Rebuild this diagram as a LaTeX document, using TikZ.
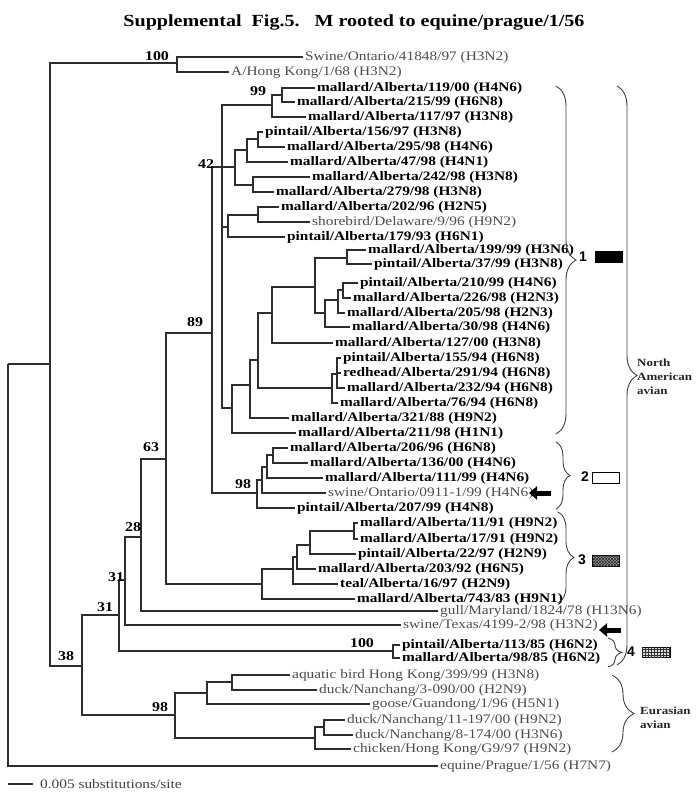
\documentclass[tikz,border=0pt]{standalone}
\usepackage{fontspec}
\setmainfont{Liberation Serif}[FakeStretch=1.18]
\setsansfont{Liberation Sans}
\usetikzlibrary{decorations.pathreplacing,patterns,arrows.meta}
\begin{document}
\begin{tikzpicture}[x=1pt,y=-1pt,
 br/.style={draw=black!82, line width=1.15pt},
 lb/.style={anchor=west, inner xsep=2.5pt, inner ysep=0pt, font=\fontsize{13}{15}\selectfont\bfseries, text=black},
 lr/.style={anchor=west, inner xsep=2.5pt, inner ysep=0pt, font=\fontsize{13}{15}\selectfont, text=black!70},
 boot/.style={font=\fontsize{13.5}{15}\selectfont\bfseries, inner sep=0pt},
 brc/.style={draw=black!75, line width=0.9pt, decorate, decoration={brace, amplitude=#1}},
 num/.style={font=\sffamily\bfseries\fontsize{14}{16}\selectfont, inner sep=0pt},
 grp/.style={font=\fontsize{11}{14}\selectfont\bfseries, align=left, anchor=west, inner sep=0pt, text=black!85},
 blk/.style={line width=5pt, -{Triangle[length=8pt,width=13pt]}}
]
\useasboundingbox (0,0) rectangle (700,796);
\node[font=\fontsize{17}{20}\selectfont\bfseries] (title) at (354,22) {Supplemental\ \ Fig.5.\ \ \ M rooted to equine/prague/1/56};

% leaves
\newcommand\lf[5]{\node[#4] (#1) at ({#2-2.5},#3) {#5};}
\lf{s1}{305}{57}{lr}{Swine/Ontario/41848/97 (H3N2)}
\lf{s2}{231}{72}{lr}{A/Hong Kong/1/68 (H3N2)}
\lf{a1}{317}{88}{lb}{mallard/Alberta/119/00 (H4N6)}
\lf{a2}{297}{102}{lb}{mallard/Alberta/215/99 (H6N8)}
\lf{a3}{308}{117}{lb}{mallard/Alberta/117/97 (H3N8)}
\lf{a4}{265}{132}{lb}{pintail/Alberta/156/97 (H3N8)}
\lf{a5}{287}{147}{lb}{mallard/Alberta/295/98 (H4N6)}
\lf{a6}{290}{162}{lb}{mallard/Alberta/47/98 (H4N1)}
\lf{a7}{312}{177}{lb}{mallard/Alberta/242/98 (H3N8)}
\lf{a8}{276}{192}{lb}{mallard/Alberta/279/98 (H3N8)}
\lf{a9}{281}{207}{lb}{mallard/Alberta/202/96 (H2N5)}
\lf{a10}{312}{222}{lr}{shorebird/Delaware/9/96 (H9N2)}
\lf{a11}{287}{237}{lb}{pintail/Alberta/179/93 (H6N1)}
\lf{a12}{368}{250}{lb}{mallard/Alberta/199/99 (H3N6)}
\lf{a13}{374}{264}{lb}{pintail/Alberta/37/99 (H3N8)}
\lf{a14}{360}{283}{lb}{pintail/Alberta/210/99 (H4N6)}
\lf{a15}{353}{298}{lb}{mallard/Alberta/226/98 (H2N3)}
\lf{a16}{347}{313}{lb}{mallard/Alberta/205/98 (H2N3)}
\lf{a17}{352}{327}{lb}{mallard/Alberta/30/98 (H4N6)}
\lf{a18}{335}{343}{lb}{mallard/Alberta/127/00 (H3N8)}
\lf{a19}{343}{358}{lb}{pintail/Alberta/155/94 (H6N8)}
\lf{a20}{343}{373}{lb}{redhead/Alberta/291/94 (H6N8)}
\lf{a21}{347}{388}{lb}{mallard/Alberta/232/94 (H6N8)}
\lf{a22}{340}{403}{lb}{mallard/Alberta/76/94 (H6N8)}
\lf{a23}{291}{418}{lb}{mallard/Alberta/321/88 (H9N2)}
\lf{a24}{298}{433}{lb}{mallard/Alberta/211/98 (H1N1)}
\lf{a25}{290}{448}{lb}{mallard/Alberta/206/96 (H6N8)}
\lf{a26}{310}{463}{lb}{mallard/Alberta/136/00 (H4N6)}
\lf{a27}{325}{478}{lb}{mallard/Alberta/111/99 (H4N6)}
\lf{a28}{328}{493}{lr}{swine/Ontario/0911-1/99 (H4N6)}
\lf{a29}{297}{508}{lb}{pintail/Alberta/207/99 (H4N8)}
\lf{a30}{360}{523}{lb}{mallard/Alberta/11/91 (H9N2)}
\lf{a31}{360}{539}{lb}{mallard/Alberta/17/91 (H9N2)}
\lf{a32}{358}{554}{lb}{pintail/Alberta/22/97 (H2N9)}
\lf{a33}{318}{569}{lb}{mallard/Alberta/203/92 (H6N5)}
\lf{a34}{340}{584}{lb}{teal/Alberta/16/97 (H2N9)}
\lf{a35}{357}{599}{lb}{mallard/Alberta/743/83 (H9N1)}
\lf{a36}{440}{611}{lr}{gull/Maryland/1824/78 (H13N6)}
\lf{a37}{403}{625}{lr}{swine/Texas/4199-2/98 (H3N2)}
\lf{a38}{402}{645}{lb}{pintail/Alberta/113/85 (H6N2)}
\lf{a39}{402}{658}{lb}{mallard/Alberta/98/85 (H6N2)}
\lf{e1}{292}{675}{lr}{aquatic bird Hong Kong/399/99 (H3N8)}
\lf{e2}{319}{690}{lr}{duck/Nanchang/3-090/00 (H2N9)}
\lf{e3}{372}{704}{lr}{goose/Guandong/1/96 (H5N1)}
\lf{e4}{347}{720}{lr}{duck/Nanchang/11-197/00 (H9N2)}
\lf{e5}{355}{735}{lr}{duck/Nanchang/8-174/00 (H3N6)}
\lf{e6}{353}{749}{lr}{chicken/Hong Kong/G9/97 (H9N2)}
\lf{eq}{440}{766}{lr}{equine/Prague/1/56 (H7N7)}

% internal nodes
\coordinate (root) at (8,364);
\coordinate (n50) at (50,364);
\coordinate (n100a) at (177,63);
\coordinate (n38) at (82,666);
\coordinate (n31a) at (119,615);
\coordinate (n31b) at (125,580);
\coordinate (n28) at (141,537);
\coordinate (n63) at (166,459);
\coordinate (n89) at (212,333);
\coordinate (n42) at (222,167);
\coordinate (n99) at (272,105);
\coordinate (nJ) at (282,95);
\coordinate (nC) at (235,167);
\coordinate (nF) at (247,150);
\coordinate (nH) at (258,139);
\coordinate (nG) at (253,185);
\coordinate (nD) at (228,227);
\coordinate (nI) at (258,215);
\coordinate (nY) at (232,408);
\coordinate (nX) at (250,385);
\coordinate (nU) at (258,360);
\coordinate (nT) at (272,313);
\coordinate (nS) at (315,287);
\coordinate (nK) at (347,258);
\coordinate (nR) at (325,313);
\coordinate (nP) at (338,300);
\coordinate (nQ) at (343,290);
\coordinate (nV) at (332,388);
\coordinate (nW) at (337,374);
\coordinate (n98) at (257,493);
\coordinate (nL3) at (262,480);
\coordinate (nL2) at (267,467);
\coordinate (nL1) at (273,455);
\coordinate (n3) at (262,584);
\coordinate (nZ2) at (293,569);
\coordinate (nZ1b) at (297,557);
\coordinate (nZ1) at (310,545);
\coordinate (nZ0) at (354,531);
\coordinate (n4) at (393,651);
\coordinate (nE98) at (175,715);
\coordinate (nEa) at (207,693);
\coordinate (nEb) at (232,682);
\coordinate (nEc) at (315,738);
\coordinate (nEd) at (324,727);

\newcommand\kid[2]{\draw[br] (#1) |- (#2);}
\kid{root}{n50} \kid{root}{eq.west}
\kid{n50}{n100a} \kid{n50}{n38}
\kid{n100a}{s1.west} \kid{n100a}{s2.west}
\kid{n38}{n31a} \kid{n38}{nE98}
\kid{n31a}{n31b} \kid{n31a}{n4}
\kid{n31b}{n28} \kid{n31b}{a37.west}
\kid{n28}{n63} \kid{n28}{a36.west}
\kid{n63}{n89} \kid{n63}{n3}
\kid{n89}{n42} \kid{n89}{n98}
\kid{n42}{n99} \kid{n42}{nC} \kid{n42}{nD} \kid{n42}{nY}
\kid{n99}{nJ} \kid{n99}{a3.west}
\kid{nJ}{a1.west} \kid{nJ}{a2.west}
\kid{nC}{nF} \kid{nC}{nG}
\kid{nF}{nH} \kid{nF}{a6.west}
\kid{nH}{a4.west} \kid{nH}{a5.west}
\kid{nG}{a7.west} \kid{nG}{a8.west}
\kid{nD}{nI} \kid{nD}{a11.west}
\kid{nI}{a9.west} \kid{nI}{a10.west}
\kid{nY}{nX} \kid{nY}{a24.west}
\kid{nX}{nU} \kid{nX}{a23.west}
\kid{nU}{nT} \kid{nU}{nV}
\kid{nT}{nS} \kid{nT}{a18.west}
\kid{nS}{nK} \kid{nS}{nR}
\kid{nK}{a12.west} \kid{nK}{a13.west}
\kid{nR}{nP} \kid{nR}{a17.west}
\kid{nP}{nQ} \kid{nP}{a16.west}
\kid{nQ}{a14.west} \kid{nQ}{a15.west}
\kid{nV}{nW} \kid{nV}{a22.west}
\kid{nW}{a19.west} \kid{nW}{a20.west} \kid{nW}{a21.west}
\kid{n98}{nL3} \kid{n98}{a29.west}
\kid{nL3}{nL2} \kid{nL3}{a28.west}
\kid{nL2}{nL1} \kid{nL2}{a27.west}
\kid{nL1}{a25.west} \kid{nL1}{a26.west}
\kid{n3}{nZ2} \kid{n3}{a35.west}
\kid{nZ2}{nZ1b} \kid{nZ2}{a34.west}
\kid{nZ1b}{nZ1} \kid{nZ1b}{a33.west}
\kid{nZ1}{nZ0} \kid{nZ1}{a32.west}
\kid{nZ0}{a30.west} \kid{nZ0}{a31.west}
\kid{n4}{a38.west} \kid{n4}{a39.west}
\kid{nE98}{nEa} \kid{nE98}{nEc}
\kid{nEa}{nEb} \kid{nEa}{e3.west}
\kid{nEb}{e1.west} \kid{nEb}{e2.west}
\kid{nEc}{nEd} \kid{nEc}{e6.west}
\kid{nEd}{e4.west} \kid{nEd}{e5.west}

% bootstrap values
\node[boot] (b1) at (157,56) {100};
\node[boot] (b2) at (258,91) {99};
\node[boot] (b3) at (206,164) {42};
\node[boot] (b4) at (195,322) {89};
\node[boot] (b5) at (151,447) {63};
\node[boot] (b6) at (243,484) {98};
\node[boot] (b7) at (133,527) {28};
\node[boot] (b8) at (116,577) {31};
\node[boot] (b9) at (105,607) {31};
\node[boot] (b10) at (66,656) {38};
\node[boot] (b11) at (160,707) {98};
\node[boot] (b12) at (362,643) {100};

% braces
\coordinate (c1a) at (556,86); \coordinate (c1b) at (556,434);
\draw[brc=20] (c1a) -- (c1b);
\coordinate (c2a) at (556,442); \coordinate (c2b) at (556,509);
\draw[brc=14] (c2a) -- (c2b);
\coordinate (c3a) at (558,512); \coordinate (c3b) at (558,603);
\draw[brc=16] (c3a) -- (c3b);
\coordinate (c4a) at (608,638); \coordinate (c4b) at (608,667);
\draw[brc=14] (c4a) -- (c4b);
\coordinate (cNa) at (617,86); \coordinate (cNb) at (617,665);
\draw[brc=20] (cNa) -- (cNb);
\coordinate (cEa) at (612,675); \coordinate (cEb) at (612,752);
\draw[brc=22] (cEa) -- (cEb);

\node[num] (g1) at (583,257) {1};
\node[num] (g2) at (585,477) {2};
\node[num] (g3) at (582,560) {3};
\node[num] (g4) at (631,652) {4};
\node[draw=black, fill=black, minimum width=27pt, minimum height=11pt, inner sep=0pt, anchor=west] (r1) at (595,257) {};
\node[draw=black, fill=white, line width=0.8pt, minimum width=27pt, minimum height=11pt, inner sep=0pt, anchor=west] (r2) at (592,477.5) {};
\node[draw=black, fill=black!40, postaction={pattern=crosshatch, pattern color=black!85}, line width=0.6pt, minimum width=27pt, minimum height=11pt, inner sep=0pt, anchor=west] (r3) at (592,560.5) {};
\node[draw=black, fill=black!15, postaction={pattern=grid, pattern color=black!80}, line width=0.6pt, minimum width=28pt, minimum height=10pt, inner sep=0pt, anchor=west] (r4) at (642,652) {};

\node[grp] (na) at (637,377) {North\\American\\avian};
\node[grp] (ea) at (640,718) {Eurasian\\avian};

% arrows
\coordinate (t1) at (551,493); \coordinate (h1) at (529,493);
\draw[blk] (t1) -- (h1);
\coordinate (t2) at (621,630); \coordinate (h2) at (599,630);
\draw[blk] (t2) -- (h2);

% scale bar
\node[anchor=west, inner sep=0pt, font=\fontsize{13}{15}\selectfont, text=black!75] (sc) at (40,784) {0.005 substitutions/site};
\coordinate (sb) at (8,784);
\draw[br] (sb) -- (33,784);
\end{tikzpicture}
\end{document}
